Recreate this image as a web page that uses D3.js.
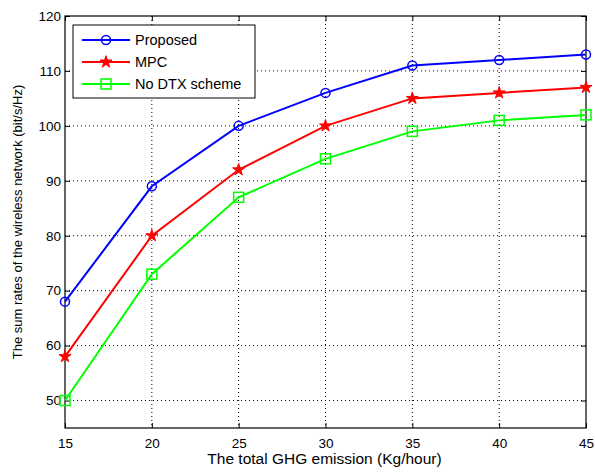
<!DOCTYPE html>
<meta charset="utf-8">
<style>
body { margin: 0; background: #fff; }
text { font-family: "Liberation Sans", Arial, sans-serif; fill: #000; }
.grid line { stroke: #000; stroke-dasharray: 1,3; stroke-width: 1; }
</style>
<svg width="595" height="472"></svg>
<script src="https://d3js.org/d3.v7.min.js"></script>
<script>
var xVals = [15, 20, 25, 30, 35, 40, 45];
var proposed = [68, 89, 100, 106, 111, 112, 113];
var mpc = [58, 80, 92, 100, 105, 106, 107];
var noDtx = [50, 73, 87, 94, 99, 101, 102];
var yTicks = [50, 60, 70, 80, 90, 100, 110, 120];

var svg = d3.select("svg");
var pLeft = 65, pRight = 586, pTop = 16, pBottom = 428;

var x = d3.scaleLinear().domain([15, 45]).range([pLeft, pRight]);
var y = d3.scaleLinear().domain([45, 120]).range([pBottom, pTop]);

// grid
var grid = svg.append("g").attr("class", "grid");
grid.selectAll(".gx").data(xVals.slice(1, -1)).enter().append("line")
  .attr("x1", function(d) { return x(d); }).attr("x2", function(d) { return x(d); })
  .attr("y1", pTop).attr("y2", pBottom);
grid.selectAll(".gy").data(yTicks.slice(0, -1)).enter().append("line")
  .attr("y1", function(d) { return y(d); }).attr("y2", function(d) { return y(d); })
  .attr("x1", pLeft).attr("x2", pRight);

// axes
var xAxis = d3.axisBottom(x).tickValues(xVals).tickSize(-5).tickPadding(10);
var yAxis = d3.axisLeft(y).tickValues(yTicks).tickSize(-5).tickPadding(4);
svg.append("g").attr("transform", "translate(0," + pBottom + ")").call(xAxis);
svg.append("g").attr("transform", "translate(" + pLeft + ",0)").call(yAxis);
// mirror ticks
svg.append("g").attr("transform", "translate(0," + pTop + ")")
  .call(d3.axisTop(x).tickValues(xVals).tickSize(-5).tickFormat(""));
svg.append("g").attr("transform", "translate(" + pRight + ",0)")
  .call(d3.axisRight(y).tickValues(yTicks).tickSize(-5).tickFormat(""));
svg.selectAll(".domain").remove();
svg.selectAll(".tick text").style("font-size", "13.5px").style("font-family", "'Liberation Sans', Arial, sans-serif");
svg.selectAll(".tick line").attr("stroke", "#000");

svg.append("rect").attr("x", pLeft).attr("y", pTop)
  .attr("width", pRight - pLeft).attr("height", pBottom - pTop)
  .attr("fill", "none").attr("stroke", "#000").attr("stroke-width", 1.2);

var series = [
  { name: "Proposed", vals: proposed, color: "#0000ff", marker: "circle" },
  { name: "MPC", vals: mpc, color: "#ff0000", marker: "star" },
  { name: "No DTX scheme", vals: noDtx, color: "#00ff00", marker: "square" }
];

var line = d3.line().x(function(d, i) { return x(xVals[i]); }).y(function(d) { return y(d); });

function drawMarker(g, type, color) {
  if (type === "circle") {
    g.append("circle").attr("r", 4.5).attr("fill", "none").attr("stroke", color).attr("stroke-width", 1.5);
  } else if (type === "square") {
    g.append("rect").attr("x", -5).attr("y", -5).attr("width", 10).attr("height", 10)
      .attr("fill", "none").attr("stroke", color).attr("stroke-width", 1.5);
  } else {
    g.append("path").attr("d", d3.symbol().type(d3.symbolStar).size(45)())
      .attr("fill", color).attr("stroke", color).attr("stroke-width", 1);
  }
}

series.forEach(function(s) {
  svg.append("path").datum(s.vals).attr("d", line)
    .attr("fill", "none").attr("stroke", s.color).attr("stroke-width", 2);
  s.vals.forEach(function(v, i) {
    var g = svg.append("g").attr("transform", "translate(" + x(xVals[i]) + "," + y(v) + ")");
    drawMarker(g, s.marker, s.color);
  });
});

// legend
var lg = svg.append("g");
lg.append("rect").attr("x", 73).attr("y", 25).attr("width", 182).attr("height", 73)
  .attr("fill", "#fff").attr("stroke", "#000").attr("stroke-width", 1);
series.forEach(function(s, i) {
  var ly = 40 + i * 22;
  lg.append("line").attr("x1", 82).attr("x2", 130).attr("y1", ly).attr("y2", ly)
    .attr("stroke", s.color).attr("stroke-width", 2);
  var g = lg.append("g").attr("transform", "translate(106," + ly + ")");
  drawMarker(g, s.marker, s.color);
  lg.append("text").attr("x", 135).attr("y", ly + 5).style("font-size", "14.5px").text(s.name);
});

// axis labels
svg.append("text").attr("x", (pLeft + pRight) / 2 - 1).attr("y", 464)
  .attr("text-anchor", "middle").style("font-size", "15.5px")
  .text("The total GHG emission (Kg/hour)");
svg.append("text").attr("transform", "translate(22," + ((pTop + pBottom) / 2) + ") rotate(-90)")
  .attr("text-anchor", "middle").style("font-size", "13px")
  .text("The sum rates of the wireless network (bit/s/Hz)");
</script>
